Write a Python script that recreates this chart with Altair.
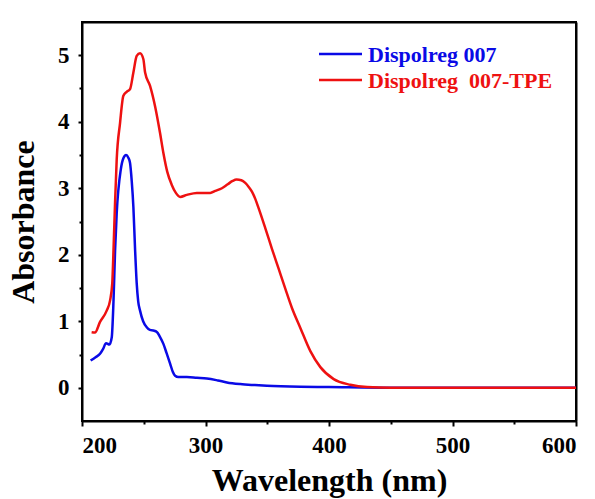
import altair as alt
import pandas as pd

# ---- data ----
blue_name = "Dispolreg 007"
red_name = "Dispolreg\u00a0 007-TPE"

blue_x = [207, 211, 214.6, 217, 219.5, 222.2, 224.1, 225.5, 226.8, 228.1, 231.4, 233.5,
          235.7, 237.5, 238.9, 240.3, 241.6, 243, 244.3, 245.5, 247, 249.5, 252.4, 255,
          257.8, 260.6, 263, 265.9, 268.5, 271.4, 273.5, 275.4, 278, 284.9, 293, 301.1,
          310, 317.3, 328.1, 340, 349.7, 376.8, 400, 450, 600]
blue_y = [0.41, 0.46, 0.51, 0.58, 0.67, 0.65, 0.76, 1.3, 2.07, 2.62, 3.28, 3.45,
          3.50, 3.46, 3.38, 3.1, 2.72, 2.07, 1.57, 1.3, 1.16, 1.0, 0.91, 0.87,
          0.86, 0.84, 0.77, 0.66, 0.52, 0.36, 0.24, 0.18, 0.16, 0.16, 0.15, 0.14,
          0.11, 0.08, 0.055, 0.04, 0.03, 0.015, 0.01, 0.0, 0.0]

red_x = [207.8, 210.5, 214.6, 220, 222.7, 224.5, 225.6, 226.8, 228.1, 230.8, 233.5, 236.2,
         238.9, 241.6, 244.3, 247, 249.7, 251.1, 255.1, 259.2, 263.2, 265.9, 269, 272.7,
         276, 279.5, 284.9, 293, 303.8, 308, 313.3, 318, 322, 325.2, 329, 332.2, 335,
         337.6, 340.3, 343, 348.4, 353.8, 359.2, 364.6, 370, 376.8, 384.9, 393, 403.8,
         417.3, 430.8, 450, 600]
red_y = [0.835, 0.83, 0.99, 1.16, 1.31, 1.57, 2.12, 2.8, 3.43, 3.98, 4.39, 4.45,
         4.49, 4.74, 4.99, 5.03, 4.94, 4.74, 4.54, 4.23, 3.83, 3.53, 3.25, 3.05,
         2.93, 2.87, 2.90, 2.93, 2.93, 2.96, 3.0, 3.06, 3.11, 3.13, 3.12, 3.08, 3.02,
         2.95, 2.84, 2.70, 2.40, 2.09, 1.79, 1.49, 1.2, 0.90, 0.55, 0.31, 0.13,
         0.045, 0.01, 0.0, 0.0]

x_domain = [200, 600]
y_domain = [-0.5, 5.5]
x_major = [200, 300, 400, 500, 600]
x_minor = [250, 350, 450, 550]
y_major = [0, 1, 2, 3, 4, 5]
y_minor = [0.5, 1.5, 2.5, 3.5, 4.5]

series_names = [blue_name, red_name]
series_colors = ["#0a0ae6", "#ee1111"]

FONT = "Liberation Serif"
W, H = 494, 399

df = pd.concat([
    pd.DataFrame({"wl": blue_x, "abs": blue_y, "series": blue_name}),
    pd.DataFrame({"wl": red_x, "abs": red_y, "series": red_name}),
])

xscale = alt.Scale(domain=x_domain, nice=False, zero=False)
yscale = alt.Scale(domain=y_domain, nice=False, zero=False)
cscale = alt.Scale(domain=series_names, range=series_colors)

lines = alt.Chart(df).mark_line(strokeWidth=2.5, interpolate="monotone").encode(
    x=alt.X("wl:Q", scale=xscale,
            axis=alt.Axis(values=x_major, title="Wavelength (nm)", orient="bottom",
                          tickSize=5, labelPadding=8, titleY=69, titleBaseline="alphabetic",
                          format="d")),
    y=alt.Y("abs:Q", scale=yscale,
            axis=alt.Axis(values=y_major, title="Absorbance", orient="left",
                          tickSize=4, labelPadding=9, titleX=-59, titleAngle=270,
                          titleBaseline="middle", format="d")),
    color=alt.Color("series:N", scale=cscale, legend=None),
    detail="series:N",
)

minor = alt.Chart(pd.DataFrame({"wl": [400], "abs": [0]})).mark_point(opacity=0).encode(
    x=alt.X("wl:Q", scale=xscale,
            axis=alt.Axis(values=x_minor, labels=False, title=None, orient="bottom",
                          tickSize=3, domain=False)),
    y=alt.Y("abs:Q", scale=yscale,
            axis=alt.Axis(values=y_minor, labels=False, title=None, orient="left",
                          tickSize=3, domain=False)),
)

# frame: top and right edges as axis domain lines with invisible ticks/labels
frame = alt.Chart(pd.DataFrame({"wl": [400], "abs": [2]})).mark_point(opacity=0).encode(
    x=alt.X("wl:Q", scale=xscale,
            axis=alt.Axis(values=[400], title=None, tickOpacity=0, tickSize=0,
                          labelOpacity=0, labelFontSize=1, domain=True)),
    y=alt.Y("abs:Q", scale=yscale,
            axis=alt.Axis(values=[2], title=None, tickOpacity=0, tickSize=0,
                          labelOpacity=0, labelFontSize=1, domain=True)),
)

leg_df = pd.DataFrame({"name": series_names, "ypix": [32, 58]})
leg_lines = alt.Chart(leg_df).mark_rule(strokeWidth=2.5).encode(
    x=alt.value(237), x2=alt.value(280),
    y=alt.Y("ypix:Q", scale=None),
    color=alt.Color("name:N", scale=cscale, legend=None),
)
leg_text = alt.Chart(leg_df).mark_text(
    align="left", baseline="middle", font=FONT, fontWeight="bold", fontSize=22, dy=1
).encode(
    x=alt.value(286),
    y=alt.Y("ypix:Q", scale=None),
    text="name:N",
    color=alt.Color("name:N", scale=cscale, legend=None),
)

chart = alt.layer(minor, lines, frame, leg_lines, leg_text).resolve_axis(
    x="independent", y="independent"
).properties(
    width=W, height=H,
    autosize=alt.AutoSizeParams(type="none"),
    padding={"left": 82, "top": 22, "right": 19, "bottom": 78},
    background="white",
).configure_view(
    stroke="black", strokeWidth=2
).configure_axis(
    domainColor="black", domainWidth=2, tickColor="black", tickWidth=2,
    labelFont=FONT, labelFontWeight="bold", labelFontSize=23, labelColor="black",
    titleFont=FONT, titleFontWeight="bold", titleFontSize=32, titleColor="black",
    grid=False,
)

chart.save("out.html", embed_options={"renderer": "svg", "actions": False})
